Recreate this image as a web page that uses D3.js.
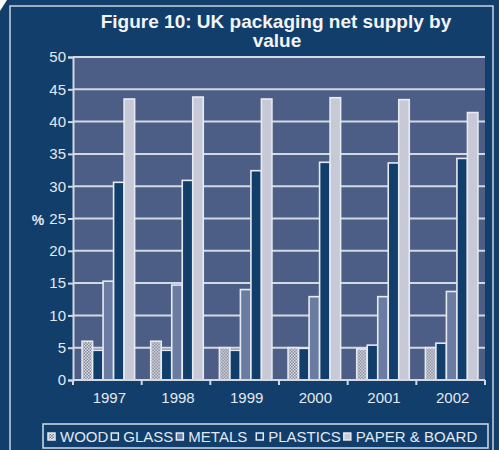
<!DOCTYPE html>
<html>
<head>
<meta charset="utf-8">
<script src="https://cdn.jsdelivr.net/npm/d3@7/dist/d3.min.js"></script>
<style>
  html, body { margin: 0; padding: 0; background: #ffffff; }
  svg { display: block; font-family: "Liberation Sans", Arial, sans-serif; }
</style>
</head>
<body>
<svg id="chart" width="499" height="450"></svg>
<script>
// UK packaging net supply by value, share (%) by material
const years = ["1997", "1998", "1999", "2000", "2001", "2002"];
const materials = ["WOOD", "GLASS", "METALS", "PLASTICS", "PAPER & BOARD"];
const wood     = [6.0, 6.0, 5.0, 5.0, 4.8, 5.0];
const glass    = [4.6, 4.6, 4.6, 4.9, 5.4, 5.7];
const metals   = [15.3, 14.7, 14.0, 12.9, 12.9, 13.7];
const plastics = [30.6, 30.9, 32.4, 33.7, 33.6, 34.3];
const paper    = [43.5, 43.8, 43.5, 43.7, 43.4, 41.4];
const yTicks = [0, 5, 10, 15, 20, 25, 30, 35, 40, 45, 50];

const seriesValues = [wood, glass, metals, plastics, paper];
const rows = years.map((y, i) => ({
  year: y,
  values: materials.map((m, k) => ({ material: m, value: seriesValues[k][i] }))
}));

const navy = "#113e6b";
const plotFill = "#4d5e86";
const lineCol = "#d3d9e4";
const textCol = "#e4e9f1";
const fills = {
  "WOOD": "url(#woodPattern)",
  "GLASS": navy,
  "METALS": "#6a7ca1",
  "PLASTICS": navy,
  "PAPER & BOARD": "#c7c9d6"
};

const svg = d3.select("#chart");

// dotted fill used for the wood series
const defs = svg.append("defs");
const pat = defs.append("pattern")
  .attr("id", "woodPattern").attr("patternUnits", "userSpaceOnUse")
  .attr("width", 3).attr("height", 3);
pat.append("rect").attr("width", 3).attr("height", 3).attr("fill", "#dfe1e8");
pat.append("rect").attr("x", 0).attr("y", 0).attr("width", 1.5).attr("height", 1.5).attr("fill", "#7d8396");
pat.append("rect").attr("x", 1.5).attr("y", 1.5).attr("width", 1.5).attr("height", 1.5).attr("fill", "#7d8396");

// dark panel with a clipped top-left corner
svg.append("path")
  .attr("d", "M7,0 L499,0 L499,450 L0,450 L0,11 Z")
  .attr("fill", navy);

// thin light frame
svg.append("rect")
  .attr("x", 10).attr("y", 6).attr("width", 483).attr("height", 450)
  .attr("fill", "none").attr("stroke", "#c9d3e0").attr("stroke-width", 1.5);

// title
const title = svg.append("text")
  .attr("text-anchor", "middle")
  .attr("fill", "#f2f4f8")
  .style("font-weight", "bold")
  .style("font-size", "19px");
title.append("tspan").attr("x", 276).attr("y", 28).text("Figure 10: UK packaging net supply by");
title.append("tspan").attr("x", 277).attr("y", 47).text("value");

const plot = { left: 73, right: 485, top: 57, bottom: 380 };

const x0 = d3.scaleBand()
  .domain(years)
  .range([plot.left, plot.right])
  .paddingInner(0.235)
  .paddingOuter(0.1175);

const x1 = d3.scaleBand()
  .domain(materials)
  .range([0, x0.bandwidth()]);

const y = d3.scaleLinear().domain([0, 50]).range([plot.bottom, plot.top]);

// plot area
svg.append("rect")
  .attr("x", plot.left).attr("y", plot.top)
  .attr("width", plot.right - plot.left).attr("height", plot.bottom - plot.top)
  .attr("fill", plotFill);

// horizontal gridlines
svg.append("g")
  .selectAll("line")
  .data(yTicks.filter(t => t > 0))
  .join("line")
  .attr("x1", plot.left).attr("x2", plot.right)
  .attr("y1", d => y(d)).attr("y2", d => y(d))
  .attr("stroke", lineCol).attr("stroke-width", 2);

// bars
const groups = svg.append("g")
  .selectAll("g")
  .data(rows)
  .join("g")
  .attr("transform", d => `translate(${x0(d.year) + 1},0)`);

groups.selectAll("rect")
  .data(d => d.values)
  .join("rect")
  .attr("x", d => x1(d.material))
  .attr("y", d => y(d.value))
  .attr("width", x1.bandwidth())
  .attr("height", d => y(0) - y(d.value))
  .attr("fill", d => fills[d.material])
  .attr("stroke", "#e6eaf1")
  .attr("stroke-width", 1.6);

// y axis
const yAxis = d3.axisLeft(y).tickValues(yTicks).tickSize(5).tickPadding(2);
const gy = svg.append("g")
  .attr("transform", `translate(${plot.left},0)`)
  .call(yAxis);
gy.select(".domain").attr("stroke", lineCol).attr("stroke-width", 2);
gy.selectAll(".tick line").attr("stroke", lineCol).attr("stroke-width", 2);
gy.selectAll(".tick text")
  .attr("fill", textCol)
  .style("font-size", "15px")
  .style("font-family", "'Liberation Sans', Arial, sans-serif");

// x axis: ticks at category boundaries, labels at centres
const gx = svg.append("g").attr("transform", `translate(0,${plot.bottom})`);
gx.append("line")
  .attr("x1", plot.left).attr("x2", plot.right)
  .attr("stroke", lineCol).attr("stroke-width", 2);
const step = x0.step();
const boundaries = d3.range(years.length + 1).map(i => plot.left + i * step);
gx.selectAll("line.tk")
  .data(boundaries)
  .join("line")
  .attr("class", "tk")
  .attr("x1", d => d).attr("x2", d => d)
  .attr("y1", 0).attr("y2", 5)
  .attr("stroke", lineCol).attr("stroke-width", 2);
gx.selectAll("text")
  .data(years)
  .join("text")
  .attr("x", d => x0(d) + x0.bandwidth() / 2 + 2)
  .attr("y", 23)
  .attr("text-anchor", "middle")
  .attr("fill", textCol)
  .style("font-size", "15px")
  .text(d => d);

// y axis unit
svg.append("text")
  .attr("x", 38).attr("y", 225)
  .attr("text-anchor", "middle")
  .attr("fill", textCol)
  .style("font-size", "14px")
  .style("font-weight", "bold")
  .text("%");

// legend
const legend = svg.append("g");
legend.append("rect")
  .attr("x", 43).attr("y", 424)
  .attr("width", 445).attr("height", 24)
  .attr("fill", navy)
  .attr("stroke", "#d6dde8").attr("stroke-width", 1.5);

let cx = 48;
const baseY = 442;
materials.forEach(m => {
  const g = legend.append("g");
  g.append("rect")
    .attr("x", cx).attr("y", baseY - 9)
    .attr("width", 7).attr("height", 7)
    .attr("fill", fills[m])
    .attr("stroke", "#e6eaf1").attr("stroke-width", 1.5);
  const t = g.append("text")
    .attr("x", cx + 12).attr("y", baseY)
    .attr("fill", textCol)
    .style("font-size", "15px")
    .text(m);
  const w = t.node().getComputedTextLength();
  cx = cx + 12 + w + (m === "METALS" ? 9 : 3);
});
</script>
</body>
</html>
